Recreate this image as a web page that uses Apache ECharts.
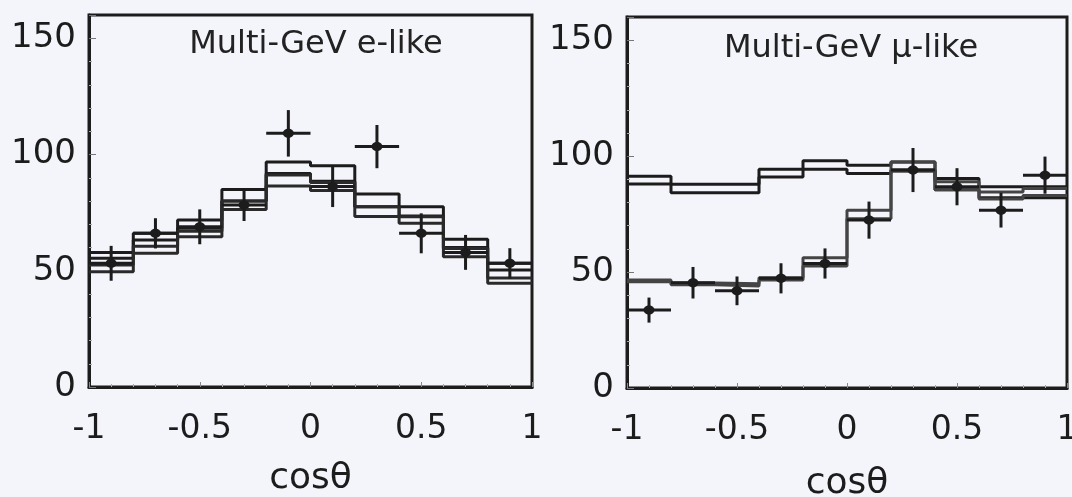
<!DOCTYPE html>
<html lang="en">
<head>
	<meta charset="UTF-8">
	<title>Multi-GeV zenith angle</title>
	<script src="https://cdn.jsdelivr.net/npm/echarts@6/dist/echarts.min.js"></script>
	<style>
		html, body { margin: 0; padding: 0; background: #f4f5fa; }
		#main { width: 1072px; height: 497px; }
	</style>
</head>
<body>
	<div id="main"></div>
	<script>
		// bin edges in cos(theta), 10 bins of 0.2
		var edges = [-1, -0.8, -0.6, -0.4, -0.2, 0, 0.2, 0.4, 0.6, 0.8, 1];
		var centers = [-0.9, -0.7, -0.5, -0.3, -0.1, 0.1, 0.3, 0.5, 0.7, 0.9];
		var yTicks = [0, 50, 100, 150];

		// e-like: MC boxes (upper / lower edges) and data
		var eNoHi  = [57.8, 66.1, 71.8, 85.0, 96.8, 95.2, 83.0, 77.5, 63.5, 53.2];
		var eNoLo  = [55.4, 63.2, 68.3, 80.0, 91.8, 88.5, 77.5, 73.5, 60.0, 50.3];
		var eOscHi = [52.5, 60.5, 67.0, 80.0, 91.2, 88.0, 77.5, 73.2, 59.6, 46.9];
		var eOscLo = [49.6, 57.5, 64.6, 76.3, 86.5, 84.5, 73.3, 70.4, 56.0, 44.6];
		var eData  = [53.2, 66.1, 68.9, 78.3, 109.1, 86.2, 103.4, 66.1, 57.9, 53.2];
		var eErr   = [7.5, 6.5, 7.5, 6.9, 10.0, 8.8, 9.3, 8.6, 7.5, 6.5];

		// mu-like
		var mNoHi  = [91.3, 87.9, 87.9, 94.3, 98.0, 96.1, 97.5, 90.4, 86.8, 86.8];
		var mNoLo  = [88.0, 84.2, 84.2, 91.0, 94.3, 92.5, 94.0, 85.5, 82.0, 82.0];
		var mOscHi = [46.6, 45.3, 45.0, 47.5, 56.2, 76.7, 97.5, 89.0, 84.5, 86.0];
		var mOscLo = [45.8, 44.5, 44.0, 46.6, 52.6, 73.0, 93.5, 85.5, 81.5, 83.0];
		var mData  = [33.6, 45.4, 41.9, 47.3, 53.7, 72.4, 94.0, 86.8, 76.7, 91.8];
		var mErr   = [5.4, 6.8, 6.2, 6.5, 6.5, 8.0, 9.5, 8.0, 7.5, 8.0];

		var ink = '#1c1c1c';
		var binHalf = (edges[1] - edges[0]) / 2;

		function stepData(vals) {
			var d = [];
			for (var i = 0; i < vals.length; i++) d.push([edges[i], vals[i]]);
			d.push([edges[edges.length - 1], vals[vals.length - 1]]);
			return d;
		}

		function histLine(vals, idx, color, width) {
			return {
				type: 'line', step: 'end', xAxisIndex: idx, yAxisIndex: idx,
				data: stepData(vals), showSymbol: false, silent: true,
				lineStyle: { color: color, width: width }
			};
		}

		function crossSeries(vals, errs, idx) {
			var d = [];
			for (var i = 0; i < vals.length; i++) d.push([centers[i], vals[i], errs[i]]);
			return {
				type: 'custom', xAxisIndex: idx, yAxisIndex: idx, data: d,
				encode: { x: 0, y: 1 }, z: 5,
				renderItem: function (params, api) {
					var x = api.value(0), v = api.value(1), e = api.value(2);
					var c = api.coord([x, v]);
					var t = api.coord([x, v + e]);
					var b = api.coord([x, v - e]);
					var l = api.coord([x - binHalf, v]);
					var r = api.coord([x + binHalf, v]);
					return {
						type: 'group',
						children: [
							{ type: 'line', shape: { x1: t[0], y1: t[1], x2: b[0], y2: b[1] }, style: { stroke: ink, lineWidth: 3 } },
							{ type: 'line', shape: { x1: l[0], y1: l[1], x2: r[0], y2: r[1] }, style: { stroke: ink, lineWidth: 3 } },
							{ type: 'ellipse', shape: { cx: c[0], cy: c[1], rx: 5.5, ry: 4.5 }, style: { fill: ink } }
						]
					};
				}
			};
		}

		function xAx(idx) {
			return {
				type: 'value', gridIndex: idx, min: -1, max: 1, interval: 0.5,
				name: 'cosθ', nameLocation: 'middle', nameGap: idx === 0 ? 74 : 78,
				nameTextStyle: { fontFamily: 'DejaVu Sans', fontSize: 36, color: ink },
				axisLine: { show: true, onZero: false, lineStyle: { color: ink, width: 3 } },
				axisTick: { show: true, inside: true, length: 5, lineStyle: { color: '#888' } },
				minorTick: { show: true, splitNumber: 5, length: 3, lineStyle: { color: '#aaa' } },
				splitLine: { show: false },
				axisLabel: { fontFamily: 'DejaVu Sans', fontSize: 33, color: ink, margin: 26 }
			};
		}

		function yAx(idx) {
			return {
				type: 'value', gridIndex: idx, min: 0, max: 160, interval: 50,
				axisLine: { show: true, onZero: false, lineStyle: { color: ink, width: 3 } },
				axisTick: { show: true, inside: true, length: 7, lineStyle: { color: '#777' } },
				minorTick: { show: true, splitNumber: 5, length: 3, lineStyle: { color: '#aaa' } },
				splitLine: { show: false },
				axisLabel: {
					fontFamily: 'DejaVu Sans', fontSize: 34, color: ink, margin: 13,
					formatter: function (v) { return yTicks.indexOf(v) >= 0 ? String(v) : ''; }
				}
			};
		}

		var chart = echarts.init(document.getElementById('main'));
		chart.setOption({
			animation: false,
			backgroundColor: '#f4f5fa',
			title: [
				{ text: 'Multi-GeV e-like', left: 311, top: 24, textAlign: 'center',
				  textStyle: { fontFamily: 'DejaVu Sans', fontSize: 32, fontWeight: 'normal', color: '#222' } },
				{ text: 'Multi-GeV μ-like', left: 846, top: 28, textAlign: 'center',
				  textStyle: { fontFamily: 'DejaVu Sans', fontSize: 32, fontWeight: 'normal', color: '#222' } }
			],
			grid: [
				{ left: 89, right: 540, top: 15, bottom: 110, outerBoundsMode: 'none',
				  show: true, borderColor: ink, borderWidth: 3 },
				{ left: 627, right: 5, top: 17, bottom: 109, outerBoundsMode: 'none',
				  show: true, borderColor: ink, borderWidth: 3 }
			],
			xAxis: [xAx(0), xAx(1)],
			yAxis: [yAx(0), yAx(1)],
			series: [
				histLine(eNoHi, 0, ink, 3),
				histLine(eNoLo, 0, ink, 3),
				histLine(eOscHi, 0, '#2a2a2a', 3),
				histLine(eOscLo, 0, '#2a2a2a', 3),
				crossSeries(eData, eErr, 0),
				histLine(mNoHi, 1, ink, 3),
				histLine(mNoLo, 1, ink, 3),
				histLine(mOscHi, 1, '#444', 3),
				histLine(mOscLo, 1, '#444', 3),
				crossSeries(mData, mErr, 1)
			]
		});
	</script>
</body>
</html>
